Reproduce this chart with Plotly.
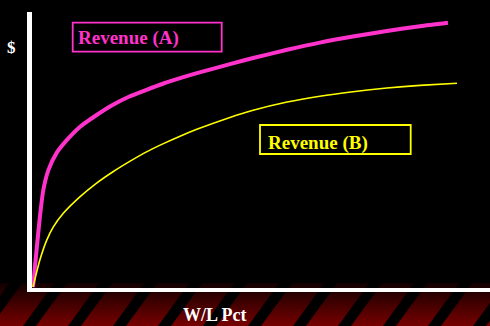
import plotly.graph_objects as go

# ---- data ----
wl_pct_a = [0, 0.009, 0.016, 0.024, 0.036, 0.055, 0.079, 0.109, 0.148, 0.184, 0.223, 0.264,
            0.302, 0.342, 0.381, 0.458, 0.512, 0.591, 0.667, 0.744, 0.823, 0.900, 0.965]
revenue_a = [0, 15.1, 26.4, 36.6, 44.2, 50.6, 55.5, 60.4, 64.9, 68.6, 71.8, 74.4,
             76.7, 78.8, 80.7, 84.1, 86.4, 89.5, 92.2, 94.5, 96.6, 98.4, 99.7]
wl_pct_b = [0, 0.016, 0.032, 0.047, 0.071, 0.109, 0.148, 0.186, 0.226, 0.264, 0.302,
            0.342, 0.381, 0.458, 0.512, 0.591, 0.667, 0.744, 0.823, 0.900, 0.986]
revenue_b = [0, 10.2, 17.7, 22.6, 27.9, 34.0, 39.2, 43.5, 47.5, 51.0, 54.0,
             56.9, 59.5, 64.0, 66.7, 69.8, 72.0, 73.7, 75.1, 76.1, 76.9]
label_a = "Revenue (A)"
label_b = "Revenue (B)"
x_title = "W/L Pct"
y_title = "$"

# ---- layout geometry ----
W, H = 490, 326
ML, MR, MT, MB = 32, 0, 12, 38
PW = W - ML - MR
PH = H - MT - MB
X_RANGE = [-0.0023, 1.0628]
Y_RANGE = [-0.38, 103.77]

MAGENTA = "#ff33cc"
YELLOW = "#ffff00"
FONT = "Liberation Serif, Times New Roman, serif"


def pxx(x):
    return (x - ML) / PW


def pxy(y):
    return (H - MB - y) / PH


fig = go.Figure()
fig.add_trace(go.Scatter(x=wl_pct_a, y=revenue_a, mode="lines",
                         line=dict(color=MAGENTA, width=4, shape="spline", smoothing=0.6),
                         hoverinfo="skip", showlegend=False))
fig.add_trace(go.Scatter(x=wl_pct_b, y=revenue_b, mode="lines",
                         line=dict(color=YELLOW, width=1.6, shape="spline", smoothing=0.6),
                         hoverinfo="skip", showlegend=False))

shapes = []
# red gradient band at the bottom
top, bot = 283, 326
n = bot - top
for i in range(n):
    t = i / (n - 1)
    r = int(18 + t * (118 - 18))
    shapes.append(dict(type="rect", xref="paper", yref="paper", layer="below",
                       x0=pxx(0), x1=pxx(W), y0=pxy(top + i), y1=pxy(top + i + 1.2),
                       fillcolor=f"rgb({r},0,0)", line=dict(width=0)))
# black diagonal stripes
slope = 24 / 33.0
sw = 13
for k in range(-2, 13):
    L0 = 2 + 45 * k
    xt = L0 + (293 - top) * slope
    xb = L0 - (bot - 293) * slope
    path = (f"M {pxx(xt)},{pxy(top)} L {pxx(xt + sw)},{pxy(top)} "
            f"L {pxx(xb + sw)},{pxy(bot)} L {pxx(xb)},{pxy(bot)} Z")
    shapes.append(dict(type="path", xref="paper", yref="paper", layer="below",
                       path=path, fillcolor="black", line=dict(width=0)))
# label boxes
shapes.append(dict(type="rect", xref="paper", yref="paper",
                   x0=pxx(72.7), x1=pxx(221.7), y0=pxy(22.7), y1=pxy(51.7),
                   line=dict(color=MAGENTA, width=1.8)))
shapes.append(dict(type="rect", xref="paper", yref="paper",
                   x0=pxx(260), x1=pxx(410.7), y0=pxy(125), y1=pxy(154),
                   line=dict(color=YELLOW, width=1.8)))

annotations = [
    dict(text=f"<b>{label_a}</b>", xref="paper", yref="paper", x=pxx(75.5), y=pxy(38),
         xanchor="left", yanchor="middle", showarrow=False,
         font=dict(family=FONT, size=19, color=MAGENTA)),
    dict(text=f"<b>{label_b}</b>", xref="paper", yref="paper", x=pxx(265.5), y=pxy(142.5),
         xanchor="left", yanchor="middle", showarrow=False,
         font=dict(family=FONT, size=19, color=YELLOW)),
    dict(text=f"<b>{x_title}</b>", xref="paper", yref="paper", x=pxx(215), y=pxy(314.5),
         xanchor="center", yanchor="middle", showarrow=False,
         font=dict(family=FONT, size=18, color="white")),
    dict(text=f"<b>{y_title}</b>", xref="paper", yref="paper", x=pxx(11.5), y=pxy(47),
         xanchor="center", yanchor="middle", showarrow=False,
         font=dict(family=FONT, size=17, color="white")),
]

fig.update_layout(
    width=W, height=H,
    margin=dict(l=ML, r=MR, t=MT, b=MB, pad=0),
    paper_bgcolor="black", plot_bgcolor="rgba(0,0,0,0)",
    shapes=shapes, annotations=annotations,
    xaxis=dict(range=X_RANGE, showgrid=False, zeroline=False, showticklabels=False,
               ticks="", showline=True, linecolor="white", linewidth=4, fixedrange=True),
    yaxis=dict(range=Y_RANGE, showgrid=False, zeroline=False, showticklabels=False,
               ticks="", showline=True, linecolor="white", linewidth=4.5, fixedrange=True),
    showlegend=False,
)

fig.write_html("out.html", config={"displayModeBar": False})
